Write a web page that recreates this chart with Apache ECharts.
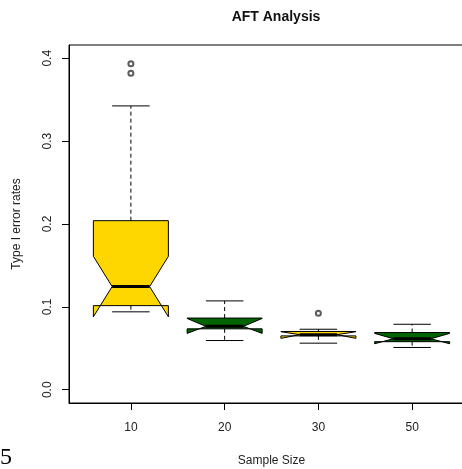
<!DOCTYPE html>
<html>
<head>
<meta charset="utf-8">
<script src="https://cdn.jsdelivr.net/npm/echarts@6/dist/echarts.min.js"></script>
<style>
  html, body { margin: 0; padding: 0; background: #fff; }
  #chart { width: 462px; height: 469px; }
</style>
</head>
<body>
<div id="chart"></div>
<script>
// values
const sampleSizes = ['10', '20', '30', '50'];
const lowerWhisker = [0.094, 0.0594, 0.0562, 0.051];
const q1 = [0.1015, 0.0735, 0.065, 0.058];
const median = [0.1245, 0.0765, 0.0665, 0.0615];
const q3 = [0.204, 0.0865, 0.0703, 0.069];
const upperWhisker = [0.3425, 0.1072, 0.073, 0.079];
const notchLow = [0.088, 0.068, 0.062, 0.0555];
const notchHigh = [0.161, 0.086, 0.070, 0.068];
const outliers = [[1, 0.3935], [1, 0.382], [3, 0.0924]];

const boxColors = ['#FFD700', '#006400', '#FFD700', '#006400'];
const yTicks = [0, 0.1, 0.2, 0.3, 0.4];
const font = "'Liberation Sans', Arial, sans-serif";

const boxData = sampleSizes.map((s, i) => [
  i + 1, lowerWhisker[i], q1[i], median[i], q3[i], upperWhisker[i], notchLow[i], notchHigh[i]
]);

const chart = echarts.init(document.getElementById('chart'), null, { renderer: 'canvas' });

// notched box like R's boxplot(notch = TRUE)
function renderBox(params, api) {
  const x = api.value(0);
  const lw = api.value(1), lo = api.value(2), med = api.value(3), hi = api.value(4);
  const uw = api.value(5), nlo = api.value(6), nhi = api.value(7);
  const w = 0.4;
  const pt = (dx, v) => api.coord([x + dx, v]);
  const color = boxColors[params.dataIndex];
  const line = (a, b, style) => ({
    type: 'line',
    shape: { x1: a[0], y1: a[1], x2: b[0], y2: b[1] },
    style: Object.assign({ stroke: '#000', lineWidth: 1 }, style)
  });
  return {
    type: 'group',
    children: [
      {
        type: 'polygon',
        shape: {
          points: [
            pt(-w, lo), pt(-w, nlo), pt(-w / 2, med), pt(-w, nhi), pt(-w, hi),
            pt(w, hi), pt(w, nhi), pt(w / 2, med), pt(w, nlo), pt(w, lo)
          ]
        },
        style: { fill: color, stroke: '#000', lineWidth: 1 }
      },
      line(pt(-w / 2, med), pt(w / 2, med), { lineWidth: 3 }),
      line(pt(0, hi), pt(0, uw), { lineDash: [4, 3] }),
      line(pt(0, lo), pt(0, lw), { lineDash: [4, 3] }),
      line(pt(-w / 2, uw), pt(w / 2, uw)),
      line(pt(-w / 2, lw), pt(w / 2, lw))
    ]
  };
}

const option = {
  animation: false,
  textStyle: { fontFamily: font },
  title: {
    text: 'AFT Analysis',
    left: 271,
    textAlign: 'center',
    top: 5,
    textStyle: { fontSize: 14, fontWeight: 'bold', color: '#111', fontFamily: font }
  },
  grid: {
    left: 69, top: 45, bottom: 66, right: -12,
    outerBoundsMode: 'none',
    containLabel: false,
    show: true, borderColor: '#000', borderWidth: 1, backgroundColor: 'transparent'
  },
  xAxis: {
    type: 'value',
    min: 0.34,
    max: 4.66,
    name: 'Sample Size',
    nameLocation: 'middle',
    nameGap: 52,
    nameTextStyle: { fontSize: 12, color: '#222', fontFamily: font },
    axisLine: { show: true, onZero: false, lineStyle: { color: '#000' } },
    axisTick: { show: true, length: 7, customValues: [1, 2, 3, 4], lineStyle: { color: '#000' } },
    axisLabel: {
      customValues: [1, 2, 3, 4],
      formatter: v => sampleSizes[Math.round(v) - 1],
      margin: 19, fontSize: 12, color: '#222', fontFamily: font
    },
    splitLine: { show: false }
  },
  yAxis: {
    type: 'value',
    min: -0.016,
    max: 0.416,
    name: 'Type I error rates',
    nameLocation: 'middle',
    nameGap: 46,
    nameTextStyle: { fontSize: 12, color: '#222', fontFamily: font },
    axisLine: { show: true, onZero: false, lineStyle: { color: '#000' } },
    axisTick: { show: true, length: 7, customValues: yTicks, lineStyle: { color: '#000' } },
    axisLabel: {
      customValues: yTicks,
      rotate: 90,
      formatter: v => v.toFixed(1),
      margin: 15, fontSize: 12, color: '#222', fontFamily: font
    },
    splitLine: { show: false }
  },
  graphic: [{
    type: 'text',
    left: 0,
    top: 446,
    style: { text: '5', font: "24px 'Liberation Serif', 'DejaVu Serif', serif", fill: '#000' }
  }],
  series: [
    {
      type: 'custom',
      renderItem: renderBox,
      encode: { x: 0, y: [1, 2, 3, 4, 5, 6, 7] },
      data: boxData,
      clip: false,
      z: 2
    },
    {
      type: 'scatter',
      symbol: 'emptyCircle',
      symbolSize: 5,
      itemStyle: { color: '#333', borderWidth: 0.8 },
      data: outliers,
      z: 3
    }
  ]
};

chart.setOption(option);
</script>
</body>
</html>
